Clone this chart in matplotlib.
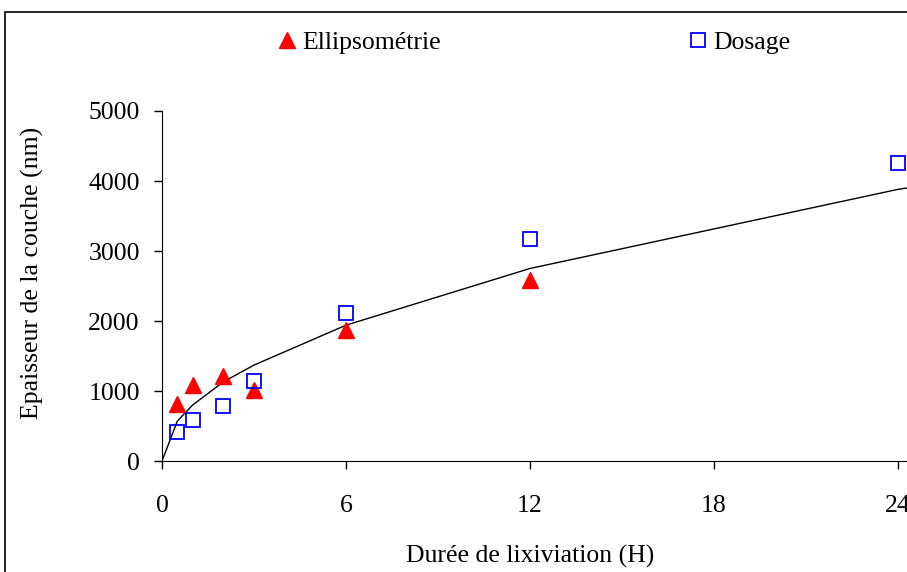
import matplotlib.pyplot as plt
from matplotlib.lines import Line2D
from matplotlib.patches import Rectangle

plt.rcParams['font.family'] = ['Liberation Serif', 'DejaVu Serif']

# lixiviation time (hours)
hours = [0.5, 1, 2, 3, 6, 12, 24]
ellipso_hours = [0.5, 1, 2, 3, 6, 12]
ellipso_nm = [820, 1080, 1210, 1010, 1870, 2580]
dosage_nm = [420, 590, 780, 1140, 2110, 3170, 4260]

# fitted curve
fit_hours = [0, 0.5, 1, 2, 3, 6, 12, 24, 24.3]
fit_nm = [0, 570, 800, 1130, 1370, 1940, 2750, 3880, 3900]

fs = 18.5

fig = plt.figure(figsize=(9.07, 5.72), dpi=100)
ax = fig.add_axes([162 / 907, 1 - 461 / 572, 1 - 162 / 907, 350 / 572])

ax.plot(fit_hours, fit_nm, color='black', lw=1)
ax.plot(ellipso_hours, ellipso_nm, ls='none', marker='^', ms=11,
        color='red', mec='red', clip_on=False)
ax.plot(hours, dosage_nm, ls='none', marker='s', ms=10, mfc='none',
        mec='blue', mew=1.3, clip_on=False)

ax.set_xlim(0, 24.3)
ax.set_ylim(0, 5000)
ax.set_xticks([0, 6, 12, 18, 24])
ax.set_yticks(range(0, 5001, 1000))
ax.spines['top'].set_visible(False)
ax.spines['right'].set_visible(False)
ax.tick_params(direction='out', length=6, width=1, labelsize=fs)
ax.tick_params(axis='x', pad=18.5)
ax.tick_params(axis='y', pad=10)
ax.set_xlabel('Durée de lixiviation (H)', fontsize=fs)
ax.set_ylabel('Epaisseur de la couche (nm)', fontsize=fs)
ax.xaxis.set_label_coords(0.494, -0.240)
ax.yaxis.set_label_coords(-0.158, 0.537)

tri = Line2D([], [], ls='none', marker='^', ms=11, color='red')
sq = Line2D([], [], ls='none', marker='s', ms=10, mfc='none', mec='blue', mew=1.3)
for h, lab, x0 in [(tri, 'Ellipsométrie', 279 / 907), (sq, 'Dosage', 690 / 907)]:
    fig.legend([h], [lab], frameon=False, fontsize=fs, loc='center left',
               bbox_to_anchor=(x0, 1 - 43 / 572), borderpad=0, borderaxespad=0,
               handlelength=0.6, handletextpad=0.3)

fig.patches.append(Rectangle((5 / 907, -0.1), 1.2, 1.1 - 12 / 572,
                             transform=fig.transFigure, fill=False,
                             edgecolor='black', lw=1.2))

fig.savefig('out.png', dpi=100)
